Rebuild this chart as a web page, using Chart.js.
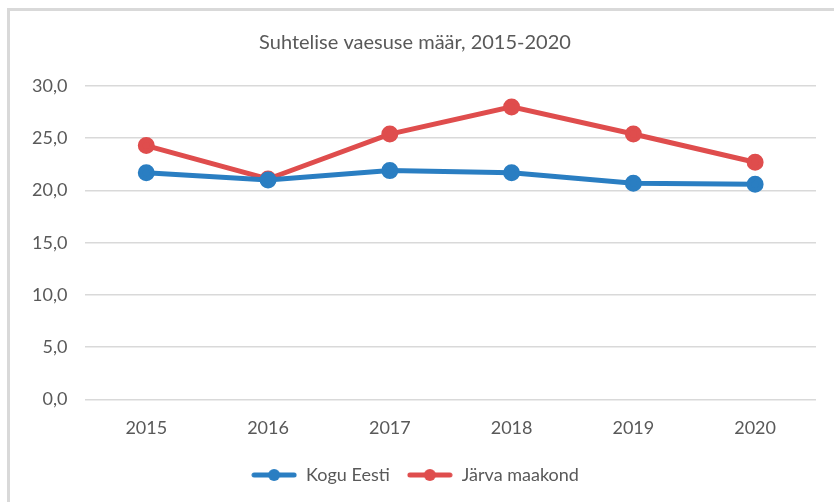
<!DOCTYPE html>
<html>
<head>
<meta charset="utf-8">
<script src="https://cdn.jsdelivr.net/npm/chart.js@4"></script>
<style>
  html, body { margin: 0; padding: 0; background: #fff; }
  body { width: 834px; height: 502px; position: relative; overflow: hidden; }
  .frame {
    position: absolute; left: 7px; top: 8px; width: 840px; height: 500px;
    border-top: 3px solid #d9d9d9; border-left: 3px solid #d9d9d9;
  }
  .wrap { position: absolute; left: 10px; top: 11px; width: 824px; height: 491px; }
</style>
</head>
<body>
<div class="frame"></div>
<div class="wrap"><canvas id="chart"></canvas></div>
<script>
const years = ["2015", "2016", "2017", "2018", "2019", "2020"];
const koguEesti = [21.7, 21.0, 21.9, 21.7, 20.7, 20.6];
const jarvaMaakond = [24.3, 21.1, 25.4, 28.0, 25.4, 22.7];

const blue = "#2a7ec2";
const red = "#df4d4d";
const textColor = "#595959";
const fontFamily = "Lato, 'Open Sans', sans-serif";

// legend marker: line with a dot in the middle
function legendIcon(color) {
  const c = document.createElement("canvas");
  c.width = 46;
  c.height = 14;
  const ctx = c.getContext("2d");
  ctx.strokeStyle = color;
  ctx.lineWidth = 5;
  ctx.lineCap = "round";
  ctx.beginPath();
  ctx.moveTo(3, 7);
  ctx.lineTo(43, 7);
  ctx.stroke();
  ctx.fillStyle = color;
  ctx.beginPath();
  ctx.arc(23, 7, 6, 0, Math.PI * 2);
  ctx.fill();
  return c;
}

new Chart(document.getElementById("chart"), {
  type: "line",
  data: {
    labels: years,
    datasets: [
      {
        label: "Kogu Eesti",
        data: koguEesti,
        borderColor: blue,
        backgroundColor: blue,
        borderWidth: 5,
        pointRadius: 6,
        pointHoverRadius: 6,
        tension: 0,
      },
      {
        label: "Järva maakond",
        data: jarvaMaakond,
        borderColor: red,
        backgroundColor: red,
        borderWidth: 5,
        pointRadius: 6,
        pointHoverRadius: 6,
        tension: 0,
      },
    ],
  },
  options: {
    responsive: true,
    maintainAspectRatio: false,
    animation: false,
    layout: { padding: { left: 4, right: 18, top: 6, bottom: 8 } },
    plugins: {
      title: {
        display: true,
        text: "Suhtelise vaesuse määr, 2015-2020",
        color: textColor,
        font: { family: fontFamily, size: 20, weight: "normal" },
        padding: { top: 14, bottom: 31 },
      },
      legend: {
        position: "bottom",
        labels: {
          color: textColor,
          font: { family: fontFamily, size: 18 },
          usePointStyle: true,
          pointStyleWidth: 46,
          boxHeight: 14,
          padding: 17,
          generateLabels: (chart) =>
            chart.data.datasets.map((ds, i) => ({
              text: ds.label,
              fontColor: textColor,
              pointStyle: legendIcon(ds.borderColor),
              datasetIndex: i,
              hidden: false,
              lineWidth: 0,
            })),
        },
      },
      tooltip: { enabled: false },
    },
    scales: {
      x: {
        offset: true,
        grid: { display: false },
        border: { display: false },
        ticks: {
          color: textColor,
          font: { family: fontFamily, size: 18 },
          padding: 10,
        },
      },
      y: {
        min: 0,
        max: 30,
        border: { display: false },
        grid: { color: "#d9d9d9", lineWidth: 1.5, drawTicks: false },
        ticks: {
          stepSize: 5,
          color: textColor,
          font: { family: fontFamily, size: 18 },
          padding: 18,
          callback: (v) => v.toFixed(1).replace(".", ","),
        },
      },
    },
  },
});
</script>
</body>
</html>
